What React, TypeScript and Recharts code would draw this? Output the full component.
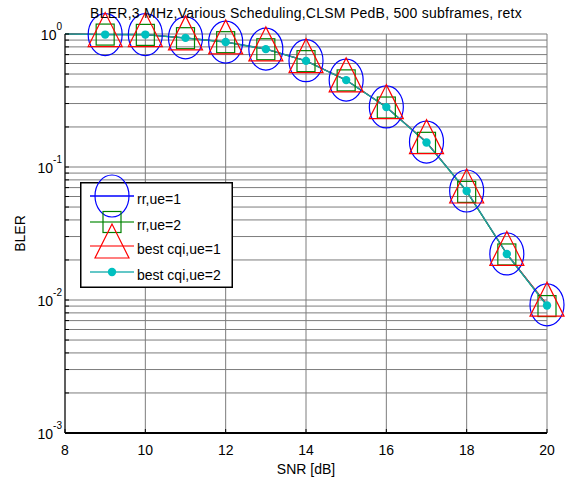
import React from 'react';
import { LineChart, Line, XAxis, YAxis, CartesianGrid, Legend } from 'recharts';

// SNR [dB]
const snr = [8, 9, 10, 11, 12, 13, 14, 15, 16, 17, 18, 19, 20];
// BLER per scheduler / number of UEs
const rrUe1 = [1.0, 0.99, 0.99, 0.935, 0.87, 0.77, 0.63, 0.45, 0.283, 0.154, 0.066, 0.0222, 0.0092];
const rrUe2 = [1.0, 0.99, 0.985, 0.93, 0.868, 0.768, 0.625, 0.448, 0.28, 0.152, 0.065, 0.022, 0.009];
const bestUe1 = [1.0, 0.99, 0.99, 0.935, 0.872, 0.772, 0.63, 0.452, 0.284, 0.155, 0.066, 0.0224, 0.0093];
const bestUe2 = [1.0, 0.99, 0.99, 0.935, 0.87, 0.77, 0.628, 0.45, 0.282, 0.153, 0.066, 0.0222, 0.0091];

const xTicks = [8, 10, 12, 14, 16, 18, 20];
const yMajor = [1, 0.1, 0.01, 0.001];
const yMinor = [
  0.9, 0.8, 0.7, 0.6, 0.5, 0.4, 0.3, 0.2,
  0.09, 0.08, 0.07, 0.06, 0.05, 0.04, 0.03, 0.02,
  0.009, 0.008, 0.007, 0.006, 0.005, 0.004, 0.003, 0.002,
];
const yTicks = [...yMajor, ...yMinor];

const title = 'BLER,3 MHz,Various Scheduling,CLSM PedB, 500 subframes, retx';

const data = snr.map((s, i) => ({
  snr: s,
  rr1: rrUe1[i],
  rr2: rrUe2[i],
  best1: bestUe1[i],
  best2: bestUe2[i],
}));

const FONT = '"Liberation Sans", Arial, sans-serif';
const GRID = '#7c7c7c';

const isMajor = (v: number) => yMajor.some((m) => Math.abs(m - v) < 1e-9);

const LeftTick = (props: any) => {
  const { x, y, payload } = props;
  const v = payload.value;
  const major = isMajor(v);
  const exp = Math.round(Math.log10(v));
  return (
    <g>
      <line x1={x} x2={x + 4} y1={y} y2={y} stroke="#000" />
      {major && (
        <text x={x - 3} y={y + 6} textAnchor="end" fontSize={14} fill="#000" fontFamily={FONT}>
          <tspan>10</tspan>
          <tspan dy={-10} fontSize={10}>{exp}</tspan>
        </text>
      )}
    </g>
  );
};

const RightTick = (props: any) => {
  const { x, y } = props;
  return <line x1={x - 4} x2={x} y1={y} y2={y} stroke="#000" />;
};

const BottomTick = (props: any) => {
  const { x, y, payload } = props;
  return (
    <g>
      <line x1={x} x2={x} y1={y} y2={y - 4} stroke="#000" />
      <text x={x} y={y + 22} textAnchor="middle" fontSize={14} fill="#000" fontFamily={FONT}>
        {payload.value}
      </text>
    </g>
  );
};

const TopTick = (props: any) => {
  const { x, y } = props;
  return <line x1={x} x2={x} y1={y} y2={y + 4} stroke="#000" />;
};

// marker shapes
const Ellipse = ({ cx, cy }: any) => (
  <ellipse cx={cx} cy={cy} rx={17} ry={21} fill="none" stroke="#0000ff" strokeWidth={1.2} />
);
const Square = ({ cx, cy }: any) => (
  <rect x={cx - 9} y={cy - 10.5} width={18} height={21} fill="none" stroke="#008000" strokeWidth={1.2} />
);
const Triangle = ({ cx, cy }: any) => (
  <polygon
    points={`${cx},${cy - 22} ${cx - 17},${cy + 12} ${cx + 17},${cy + 12}`}
    fill="none"
    stroke="#ff0000"
    strokeWidth={1.2}
  />
);
const Dot = ({ cx, cy }: any) => <circle cx={cx} cy={cy} r={4.2} fill="#00c0c0" />;

// no marker on the first sample (x = 8)
const markerFor = (Shape: any) => (p: any) =>
  p.index === 0 ? <g key={`m-${p.index}`} /> : <Shape key={`m-${p.index}`} cx={p.cx} cy={p.cy} />;

const legendRows = [
  { label: 'rr,ue=1', color: '#0000ff', Shape: Ellipse },
  { label: 'rr,ue=2', color: '#3aa23a', Shape: Square },
  { label: 'best cqi,ue=1', color: '#ff4a4a', Shape: Triangle },
  { label: 'best cqi,ue=2', color: '#2fb5b5', Shape: Dot },
];
const rowY = [14, 40, 64, 90];

const LegendBox = () => (
  <svg width={153} height={106} style={{ overflow: 'visible', display: 'block' }}>
    <rect x={0.75} y={0.75} width={151.5} height={104.5} fill="#fff" stroke="#000" strokeWidth={1.5} />
    {legendRows.map((r, i) => (
      <g key={r.label}>
        <line x1={10} x2={54} y1={rowY[i]} y2={rowY[i]} stroke={r.color} strokeWidth={1.5} />
        <r.Shape cx={32} cy={rowY[i]} />
        <text x={57} y={rowY[i] + 8} fontSize={14} fill="#000" fontFamily={FONT}>
          {r.label}
        </text>
      </g>
    ))}
  </svg>
);

export default function App() {
  return (
    <div style={{ position: 'absolute', left: 0, top: 0, width: 566, height: 484, background: '#fff' }}>
      <LineChart
        width={566}
        height={484}
        data={data}
        margin={{ top: 34, right: 0, bottom: 0, left: 0 }}
        style={{ fontFamily: FONT }}
      >
        <CartesianGrid stroke={GRID} strokeWidth={1} />
        <XAxis
          dataKey="snr"
          type="number"
          domain={[8, 20]}
          ticks={xTicks}
          interval={0}
          height={51}
          tickSize={0}
          tickMargin={0}
          tick={<BottomTick />}
          axisLine={{ stroke: '#000', strokeWidth: 2 }}
          label={{ value: 'SNR [dB]', position: 'insideBottom', offset: 10, fill: '#000', fontSize: 14 }}
        />
        <XAxis
          xAxisId="top"
          orientation="top"
          dataKey="snr"
          type="number"
          domain={[8, 20]}
          ticks={xTicks}
          interval={0}
          height={0}
          tickSize={0}
          tickMargin={0}
          tick={<TopTick />}
          axisLine={false}
        />
        <YAxis
          type="number"
          scale="log"
          domain={[0.001, 1]}
          ticks={yTicks}
          interval={0}
          width={65}
          tickSize={0}
          tickMargin={0}
          tick={<LeftTick />}
          axisLine={{ stroke: '#000', strokeWidth: 1 }}
          label={{
            value: 'BLER',
            angle: -90,
            position: 'insideLeft',
            offset: 20,
            fill: '#000',
            fontSize: 14,
            style: { textAnchor: 'middle' },
          }}
        />
        <YAxis
          yAxisId="right"
          orientation="right"
          type="number"
          scale="log"
          domain={[0.001, 1]}
          ticks={yTicks}
          interval={0}
          width={19}
          tickSize={0}
          tickMargin={0}
          tick={<RightTick />}
          axisLine={false}
        />
        <Legend
          layout="horizontal"
          verticalAlign="middle"
          content={() => <LegendBox />}
          wrapperStyle={{ left: 80, top: 182, width: 153, height: 106 }}
        />
        <Line dataKey="rr1" stroke="#0000ff" strokeWidth={1} dot={markerFor(Ellipse)} isAnimationActive={false} />
        <Line dataKey="rr2" stroke="#008000" strokeWidth={1} dot={markerFor(Square)} isAnimationActive={false} />
        <Line dataKey="best1" stroke="#ff0000" strokeWidth={1} dot={markerFor(Triangle)} isAnimationActive={false} />
        <Line dataKey="best2" stroke="#1f9e9e" strokeWidth={1.5} dot={markerFor(Dot)} isAnimationActive={false} />
      </LineChart>
      <div
        style={{
          position: 'absolute',
          left: 65,
          top: 5,
          width: 482,
          textAlign: 'center',
          fontFamily: FONT,
          fontSize: 14,
          lineHeight: '16px',
          letterSpacing: '0.25px',
          color: '#000',
          whiteSpace: 'nowrap',
        }}
      >
        {title}
      </div>
    </div>
  );
}
